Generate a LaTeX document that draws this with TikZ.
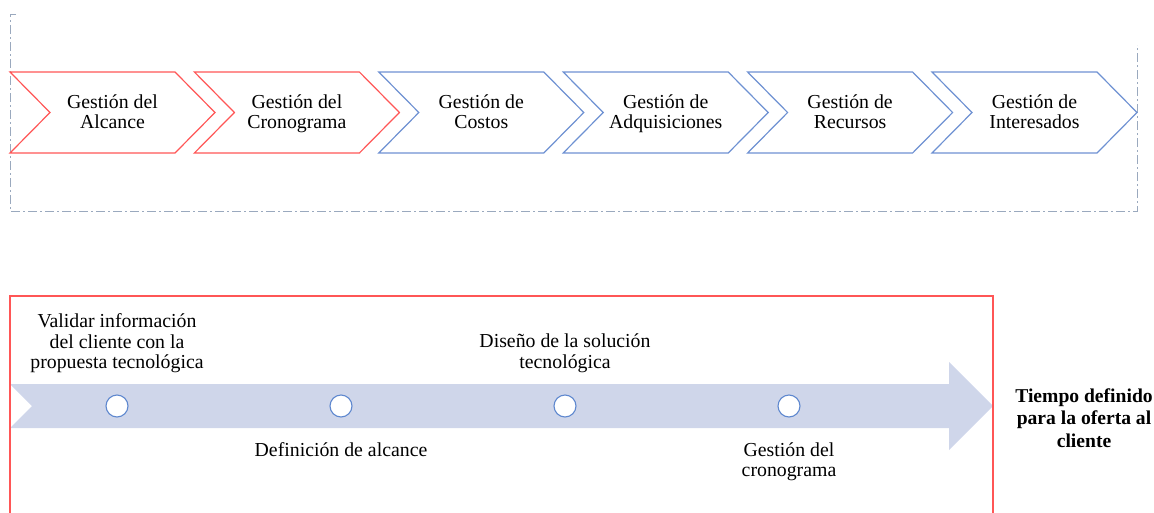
\documentclass[tikz,border=0pt]{standalone}
\usepackage{fontspec}
\setmainfont{Liberation Serif}
\definecolor{cred}{HTML}{FF5656}
\definecolor{cblue}{HTML}{6E91D2}
\definecolor{cfill}{HTML}{CFD6EA}
\definecolor{ccirc}{HTML}{5F88CF}
\definecolor{cframe}{HTML}{9AA9BE}
\tikzset{
  lbl/.style={align=center, inner sep=0pt, anchor=base, font=\fontsize{19.8}{20.5}\selectfont},
  boldlbl/.style={align=center, inner sep=0pt, anchor=base, font=\fontsize{19.6}{22.5}\selectfont\bfseries},
  chev/.style={line width=1.2pt, line join=miter},
  dot/.style={circle, draw=ccirc, line width=1.1pt, fill=white, minimum size=22pt, inner sep=0pt},
}
\begin{document}
\begin{tikzpicture}[x=1pt, y=-1pt]
\useasboundingbox (0,0) rectangle (1154,512);
% dash-dot frame of the top group
\draw[cframe, line width=0.9pt, dash pattern=on 9pt off 3pt on 2pt off 3pt]
  (16,14) -- (10,14) -- (10,211) -- (1137,211) -- (1137,45);
% chevrons
\foreach \i/\col/\txt in {0/cred/{Gestión del\\Alcance},
                          1/cred/{Gestión del\\Cronograma},
                          2/cblue/{Gestión de\\Costos},
                          3/cblue/{Gestión de\\Adquisiciones},
                          4/cblue/{Gestión de\\Recursos},
                          5/cblue/{Gestión de\\Interesados}}{
  \pgfmathsetmacro{\L}{10+184.4*\i}
  \draw[chev, draw=\col] (\L,72) -- (\L+165,72) -- (\L+205,112.5) -- (\L+165,153) -- (\L,153) -- (\L+40,112.5) -- cycle;
  \node[lbl] (g\i) at (\L+102.5,128.5) {\txt};
}
% timeline arrow
\fill[cfill] (10,384) -- (949,384) -- (949,362) -- (993,406) -- (949,450) -- (949,428) -- (10,428) -- (32,406) -- cycle;
% red frame
\draw[cred, line width=1.2pt] (10,515) -- (10,296) -- (993,296) -- (993,515);
% milestones
\node[dot] (m1) at (117,406) {};
\node[dot] (m2) at (341,406) {};
\node[dot] (m3) at (565,406) {};
\node[dot] (m4) at (789,406) {};
% labels
\node[lbl] (t1) at (117,368.5) {Validar información\\del cliente con la\\propuesta tecnológica};
\node[lbl] (t2) at (341,456) {Definición de alcance};
\node[lbl] (t3) at (565,368) {Diseño de la solución\\tecnológica};
\node[lbl] (t4) at (789,476.5) {Gestión del\\cronograma};
\node[boldlbl] (t5) at (1084,447) {Tiempo definido\\para la oferta al\\cliente};
\end{tikzpicture}
\end{document}
